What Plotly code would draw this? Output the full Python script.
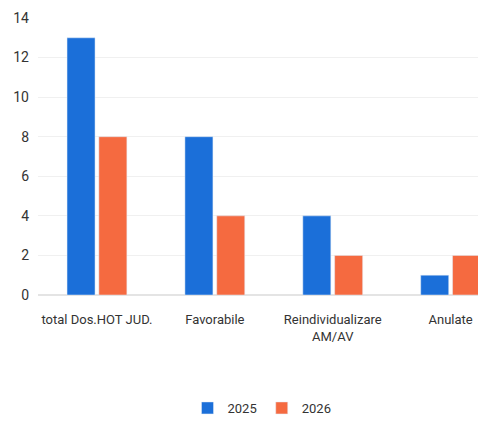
import plotly.graph_objects as go

categories = ["total Dos.HOT JUD.", "Favorabile", "Reindividualizare<br>AM/AV", "Anulate"]
series_2025 = [13, 8, 4, 1]
series_2026 = [8, 4, 2, 2]
y_ticks = [0, 2, 4, 6, 8, 10, 12, 14]

font_family = "Roboto, DejaVu Sans"

fig = go.Figure()
fig.add_trace(go.Bar(name="2025", x=categories, y=series_2025, marker_color="#1b6fd9"))
fig.add_trace(go.Bar(name="2026", x=categories, y=series_2026, marker_color="#f56a40"))

fig.update_layout(
    width=478, height=415,
    margin=dict(l=30, r=0, t=10, b=124),
    paper_bgcolor="white", plot_bgcolor="white",
    barmode="group", bargap=0.46, bargroupgap=0.12,
    font=dict(family=font_family, size=13, color="#333333"),
    showlegend=True,
    legend=dict(orientation="h", x=0.5, xanchor="center", y=-0.41, yanchor="middle",
                font=dict(size=13), traceorder="normal"),
    xaxis=dict(range=[-0.5, 3.3], showgrid=False, showline=False,
               ticks="outside", ticklen=12, tickcolor="rgba(0,0,0,0)",
               tickfont=dict(size=13), automargin=False),
    yaxis=dict(range=[0, 14], tickvals=y_ticks, showgrid=True, gridcolor="#f0f0f0",
               zeroline=True, zerolinecolor="#e4e4e4", showline=False, ticks="",
               tickfont=dict(size=14), ticklabelstandoff=8, automargin=False),
)

fig.write_html("out.html")
